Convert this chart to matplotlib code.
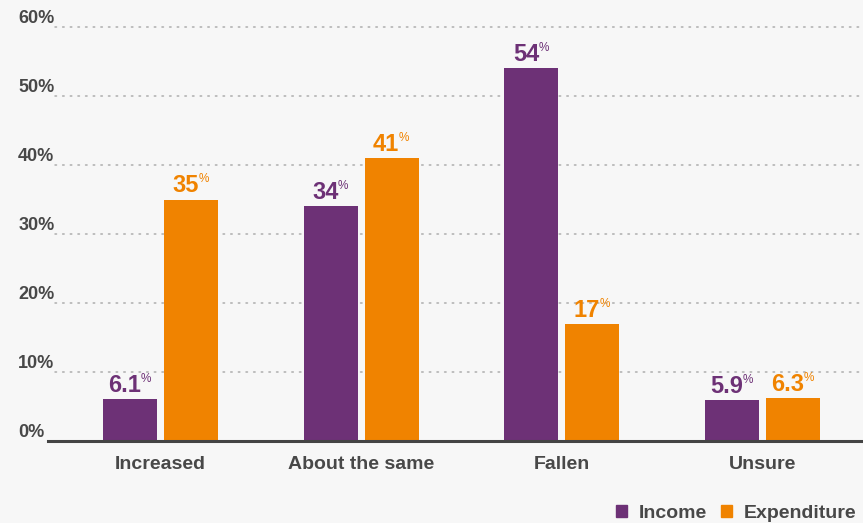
import numpy as np
import matplotlib.pyplot as plt
from matplotlib.patches import Patch

plt.rcParams['font.family'] = ['Liberation Sans', 'DejaVu Sans']

# survey responses, percent of respondents
categories = ['Increased', 'About the same', 'Fallen', 'Unsure']
income = [6.1, 34, 54, 5.9]
expenditure = [35, 41, 17, 6.3]
yticks = [0, 10, 20, 30, 40, 50, 60]

purple = '#6d3176'
orange = '#f08300'
text_grey = '#484848'
bg = '#f7f7f7'
narrow = ['Liberation Sans Narrow', 'Liberation Sans']

fig = plt.figure(figsize=(8.63, 5.23), dpi=100, facecolor=bg)
ax = fig.add_axes([48 / 863, 82 / 523, 815 / 863, 414 / 523], facecolor=bg)

x = np.arange(len(categories))
w = 0.269
off = 0.152
bars_inc = ax.bar(x - off, income, w, color=purple, zorder=3)
bars_exp = ax.bar(x + off, expenditure, w, color=orange, zorder=3)

ax.set_xlim(-0.561, 3.50)
ax.set_ylim(0, 60)

# value labels: number plus a small raised percent sign
num_size = 17
gap_px = 7
value_texts = []
for bars, values, color in [(bars_inc, income, purple), (bars_exp, expenditure, orange)]:
    for b, v in zip(bars, values):
        t = ax.annotate(f'{v:g}', (b.get_x() + b.get_width() / 2, v),
                        xytext=(-4, gap_px * 0.72), textcoords='offset points',
                        ha='center', va='baseline', fontsize=num_size,
                        fontweight='bold', family=narrow, color=color)
        value_texts.append((t, v, color))

fig.canvas.draw()
for t, v, color in value_texts:
    bb = t.get_window_extent()
    baseline = ax.transData.transform((0, v))[1] + gap_px
    cap_top = baseline + 0.72 * num_size * 100 / 72
    fig.text(bb.x1 - 0.5, cap_top + 2, '%', transform=None, ha='left', va='top',
             fontsize=8.5, family=narrow, color=color)

# dotted gridlines, starting just right of the tick labels
for v in yticks[1:]:
    ax.axhline(v, xmin=0.009, xmax=1, color='#adadad', lw=1.1,
               ls=(0, (1, 4)), dash_capstyle='round', zorder=1, clip_on=False)

ax.set_yticks(yticks, [f'{t}%' for t in yticks])
ax.tick_params(axis='y', length=0, pad=21.5, labelsize=13, labelcolor=text_grey)
for lbl in ax.get_yticklabels():
    lbl.set_ha('left')
    lbl.set_va('bottom')
    lbl.set_fontweight('bold')

ax.set_xticks(x, categories)
ax.tick_params(axis='x', length=0, pad=11, labelsize=14, labelcolor=text_grey)
for lbl in ax.get_xticklabels():
    lbl.set_fontweight('bold')

for s in ['top', 'right', 'left']:
    ax.spines[s].set_visible(False)
ax.spines['bottom'].set_color('#444444')
ax.spines['bottom'].set_linewidth(2.2)
ax.spines['bottom'].set_zorder(4)

handles = [Patch(color=purple, label='Income'), Patch(color=orange, label='Expenditure')]
leg = fig.legend(handles=handles, loc='lower right', bbox_to_anchor=(1.008, -0.024),
                 ncol=2, frameon=False, handlelength=0.55, handleheight=0.55,
                 handletextpad=0.6, columnspacing=0.75, borderpad=0.2,
                 prop={'size': 14, 'weight': 'bold'})
for t in leg.get_texts():
    t.set_color(text_grey)

fig.savefig('out.png', dpi=100, facecolor=bg)
